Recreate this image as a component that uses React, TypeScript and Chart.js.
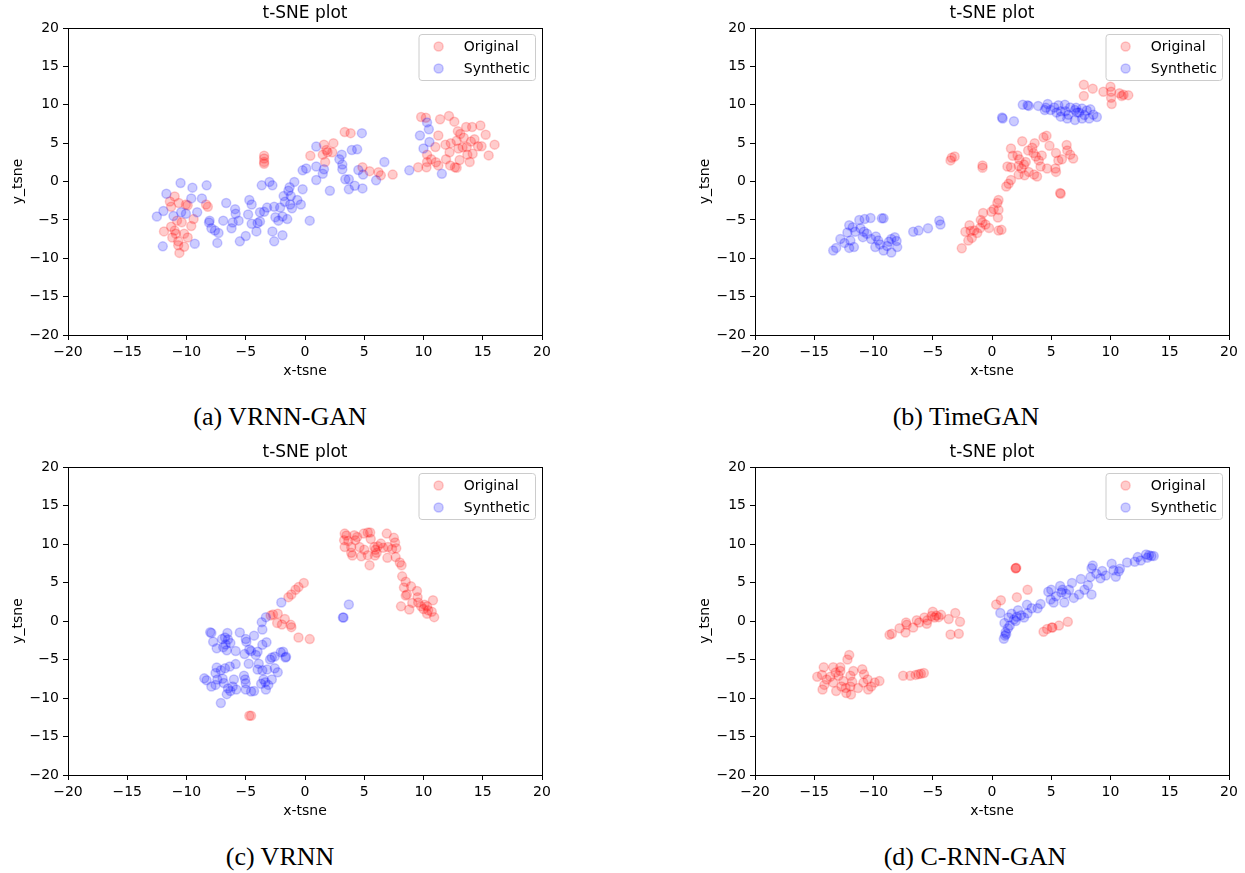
import { useEffect, useRef } from 'react';
import { Chart, registerables } from 'chart.js';

Chart.register(...registerables);

// ---------- data ----------
const xTickValues = [-20, -15, -10, -5, 0, 5, 10, 15, 20];
const yTickValues = [-20, -15, -10, -5, 0, 5, 10, 15, 20];

const plotTitle = 't-SNE plot';
const xAxisLabel = 'x-tsne';
const yAxisLabel = 'y_tsne';
const seriesLabels = ['Original', 'Synthetic'];
const captions = ['(a) VRNN-GAN', '(b) TimeGAN', '(c) VRNN', '(d) C-RNN-GAN'];

type P = [number, number];

const vrnnGanOriginal: P[] = [
  [-11.0, -1.95], [-11.4, -2.6], [-11.3, -3.3], [-10.65, -2.8], [-10.05, -3.0], [-9.9, -3.1], [-9.4, -4.9],
  [-9.6, -5.8], [-10.4, -5.3], [-10.8, -5.1], [-11.9, -6.5], [-11.0, -6.4], [-10.9, -6.8], [-11.2, -7.3],
  [-10.7, -7.8], [-10.2, -6.8], [-9.9, -7.3], [-10.7, -8.3], [-10.2, -8.5], [-10.6, -9.3], [-11.3, -5.9],
  [-8.35, -3.0], [-8.2, -3.3], [-3.45, 3.35], [-3.45, 3.0], [-3.45, 2.55], [-3.45, 2.3],
  [0.45, 3.35], [1.6, 4.8], [2.4, 5.0], [1.8, 4.1], [1.5, 3.5], [1.9, 3.8], [1.7, 2.55], [2.3, 3.8],
  [3.35, 6.45], [3.85, 6.3], [4.85, 1.85], [5.45, 1.35], [6.2, 1.2], [6.4, 0.8], [7.4, 0.9],
  [9.8, 8.4], [10.2, 8.3], [11.4, 8.1], [12.15, 8.55], [12.6, 7.8], [11.25, 6.0], [13.6, 7.1], [14.1, 7.1],
  [14.8, 7.3], [15.25, 6.1], [16.0, 4.8], [15.5, 3.4], [14.9, 4.6], [14.6, 4.6], [14.0, 5.2], [13.4, 5.7],
  [12.9, 6.55], [11.85, 4.8], [11.0, 4.5], [10.3, 3.5], [10.65, 2.9], [10.3, 2.55], [11.05, 2.5], [10.25, 1.85],
  [9.55, 1.85], [11.25, 2.1], [11.9, 2.9], [12.2, 3.8], [12.25, 2.1], [12.65, 1.85], [12.8, 1.8], [13.05, 2.8],
  [12.95, 4.3], [13.3, 4.45], [13.7, 3.5], [13.9, 2.55], [14.15, 3.6], [13.65, 4.5], [12.8, 5.3], [12.3, 5.0],
  [13.1, 6.2], [14.3, 5.5],
];
const vrnnGanSynthetic: P[] = [
  [-12.5, -4.55], [-11.95, -3.85], [-11.7, -1.6], [-12.0, -8.45], [-10.5, -0.2], [-9.5, -0.8], [-9.6, -2.2],
  [-11.1, -4.5], [-10.45, -4.0], [-10.05, -4.2], [-9.1, -4.0], [-9.3, -8.1], [-8.7, -2.2], [-8.3, -0.5],
  [-8.05, -5.1], [-8.1, -5.35], [-7.9, -6.1], [-7.6, -6.4], [-7.3, -6.7], [-7.4, -8.0], [-6.9, -5.1],
  [-6.65, -2.8], [-6.2, -6.1], [-5.9, -3.6], [-5.85, -4.2], [-5.6, -5.1], [-6.1, -5.35], [-5.5, -7.8],
  [-5.0, -7.1], [-4.8, -4.3], [-4.7, -2.4], [-4.5, -3.0], [-4.5, -5.5], [-4.1, -6.5], [-4.0, -5.4],
  [-3.8, -5.2], [-3.8, -4.0], [-3.45, -3.95], [-3.2, -3.4], [-3.65, -0.5], [-3.0, -0.05], [-2.75, -0.5],
  [-2.75, -6.5], [-2.6, -7.8], [-2.6, -3.3], [-2.5, -4.65], [-2.25, -5.1], [-2.1, -3.4], [-1.9, -4.55],
  [-1.9, -7.0], [-1.8, -1.9], [-1.7, -2.65], [-1.5, -4.9], [-1.4, -1.2], [-1.3, -0.75], [-1.2, -1.9],
  [-1.25, -3.0], [-1.1, -3.5], [-0.9, -0.05], [-0.65, -2.4], [-0.35, -3.0], [-0.2, -1.0], [-0.2, 1.45],
  [0.1, 1.7], [0.4, -5.1], [0.95, 0.2], [0.95, 1.95], [0.95, 4.55], [1.5, 1.0], [1.6, 1.6], [2.1, -1.2],
  [2.9, 2.9], [3.1, 3.5], [3.15, 2.2], [3.15, 1.6], [3.4, 0.3], [3.7, 0.3], [3.7, -1.0], [3.95, 4.1],
  [4.2, -0.55], [4.4, 4.2], [4.5, 1.5], [4.8, 6.3], [4.85, -0.9], [4.9, 0.9], [6.0, 0.15], [6.7, 2.55],
  [8.8, 1.45], [9.7, 6.0], [10.0, 4.3], [10.3, 7.7], [10.45, 6.8], [10.5, 5.15], [11.55, 1.0],
];

const timeGanOriginal: P[] = [
  [7.75, 12.6], [8.5, 12.1], [7.75, 11.15], [9.4, 11.7], [10.0, 12.35], [10.05, 11.7], [10.05, 10.9],
  [10.1, 10.1], [10.75, 11.5], [10.95, 11.15], [11.5, 11.25], [11.1, 11.3],
  [-3.5, 2.75], [-3.4, 3.1], [-3.15, 3.25], [-0.8, 2.1], [-0.8, 1.8],
  [2.55, 5.25], [1.6, 4.3], [1.75, 3.35], [2.15, 3.4], [2.3, 2.9], [1.3, 1.95], [1.6, 1.85], [2.25, 2.05],
  [2.5, 1.7], [2.7, 2.2], [2.85, 2.55], [3.05, 4.05], [3.4, 4.4], [3.6, 5.0], [3.5, 3.7], [3.7, 3.25],
  [3.95, 2.75], [4.2, 3.4], [4.35, 5.75], [4.6, 5.95], [4.85, 4.65], [2.25, 0.9], [2.75, 0.8], [3.1, 1.25],
  [3.55, 0.9], [3.8, 0.65], [4.1, 1.95], [4.65, 1.7], [5.4, 3.7], [5.35, 1.7], [5.4, 1.25], [5.6, 2.75],
  [5.9, 2.9], [6.3, 4.75], [6.35, 4.05], [6.6, 3.5], [6.85, 3.0], [5.75, -1.5], [5.8, -1.6],
  [1.6, 0.2], [1.4, -0.3], [1.2, -0.65], [0.55, -2.4], [0.45, -2.8], [0.15, -3.6], [0.55, -3.7],
  [-0.05, -3.95], [-0.75, -4.1], [0.5, -4.7], [-0.95, -5.0], [-0.8, -5.35], [-0.55, -5.6], [-0.25, -6.05],
  [0.55, -6.4], [0.8, -6.3], [-1.9, -5.7], [-2.25, -6.55], [-1.8, -6.45], [-1.5, -6.4], [-1.25, -6.7],
  [-1.0, -6.05], [-2.0, -7.7], [-1.7, -7.35], [-2.55, -8.7],
];
const timeGanSynthetic: P[] = [
  [2.6, 10.0], [3.0, 9.95], [3.1, 9.85], [3.9, 9.85], [4.55, 9.6], [4.7, 10.1], [4.45, 9.3], [4.95, 9.3],
  [5.25, 9.65], [5.6, 9.95], [6.15, 10.0], [5.8, 9.15], [6.2, 9.15], [6.6, 9.65], [7.0, 9.3], [7.1, 9.6],
  [7.35, 9.0], [7.6, 9.5], [8.0, 9.25], [8.3, 9.4], [8.55, 8.7], [8.85, 8.4], [8.2, 8.2], [7.6, 8.2],
  [7.0, 8.0], [6.35, 8.2], [5.8, 8.45], [6.45, 8.7], [7.8, 8.65], [0.9, 8.2], [0.85, 8.35], [1.85, 7.85],
  [7.2, 9.0], [5.45, 9.0],
  [-13.4, -9.0], [-13.15, -8.65], [-12.8, -7.5], [-12.45, -8.0], [-12.05, -8.65], [-11.65, -8.55],
  [-12.2, -6.65], [-12.05, -5.7], [-11.75, -5.95], [-11.55, -6.55], [-11.95, -7.7], [-11.2, -5.0],
  [-10.75, -4.9], [-10.25, -4.75], [-11.1, -6.1], [-10.8, -6.55], [-10.9, -7.25], [-10.55, -6.8],
  [-10.2, -7.5], [-9.8, -7.15], [-9.6, -7.7], [-9.85, -8.55], [-9.3, -4.8], [-9.15, -4.8], [-9.45, -8.2],
  [-9.15, -9.0], [-8.85, -8.4], [-8.7, -7.85], [-8.5, -7.5], [-8.2, -7.25], [-8.05, -7.75], [-8.0, -8.55],
  [-8.5, -9.25], [-6.65, -6.55], [-6.2, -6.4], [-5.4, -6.1], [-4.45, -5.1], [-4.35, -5.6],
];

const vrnnOriginal: P[] = [
  [3.35, 11.35], [3.5, 11.1], [3.3, 10.5], [3.35, 9.6], [3.65, 10.4], [4.15, 11.15], [4.4, 10.9], [4.25, 10.5],
  [3.9, 9.6], [3.9, 8.85], [4.0, 8.5], [4.6, 9.6], [4.75, 8.4], [5.0, 9.25], [4.95, 11.35], [5.3, 11.5],
  [5.5, 11.5], [5.55, 10.65], [5.45, 7.25], [5.3, 8.55], [5.85, 9.6], [5.95, 9.25], [6.15, 9.7], [5.9, 8.5],
  [6.05, 8.85], [6.4, 10.05], [6.6, 9.5], [6.9, 11.35], [6.95, 8.2], [7.0, 9.6], [7.35, 9.35], [7.5, 10.8],
  [7.6, 10.2], [7.7, 9.45], [7.65, 8.3], [8.0, 7.6], [8.15, 7.25], [8.2, 5.8], [8.5, 5.1], [8.35, 4.35],
  [8.95, 4.5], [8.6, 3.45], [8.5, 3.3], [9.45, 3.9], [9.5, 3.1], [8.1, 1.9], [8.8, 1.5], [9.05, 2.35],
  [9.55, 2.4], [9.8, 1.9], [10.1, 2.1], [10.3, 1.9], [10.0, 1.55], [10.4, 1.4], [10.8, 2.7], [10.7, 1.2],
  [10.9, 0.5], [10.3, 0.95],
  [-0.1, 4.95], [-0.55, 4.4], [-0.8, 4.05], [-1.15, 3.45], [-1.4, 3.1], [-2.7, 0.85], [-2.9, 0.7],
  [-2.3, 0.95], [-1.7, 0.25], [-2.35, -0.25], [-1.95, -0.45], [-1.2, -0.5], [-1.15, -0.8], [-0.55, -2.15],
  [0.4, -2.35], [-4.7, -12.3], [-4.55, -12.3],
];
const vrnnSynthetic: P[] = [
  [-8.0, -1.45], [-7.9, -1.55], [-7.75, -2.7], [-7.45, -3.55], [-7.0, -2.35], [-6.75, -2.15], [-6.55, -1.55],
  [-6.5, -2.4], [-6.7, -3.05], [-6.9, -3.4], [-6.6, -3.8], [-6.3, -2.85], [-5.85, -3.9], [-5.5, -1.5],
  [-5.0, -2.35], [-4.95, -2.7], [-4.3, -1.9], [-4.7, -3.7], [-4.55, -3.9], [-5.1, -4.3], [-4.75, -5.55],
  [-4.15, -4.4], [-4.0, -4.0], [-3.6, -3.1], [-3.25, -2.75], [-3.6, -1.1], [-3.65, -0.15], [-3.3, 0.5],
  [-2.95, -5.0], [-2.8, -4.75], [-2.55, -4.6], [-2.05, -4.05], [-1.85, -4.0], [-1.6, -4.65], [-1.65, -4.75],
  [-2.0, 2.4], [-3.9, -5.55], [-4.0, -6.3], [-3.6, -6.4], [-3.2, -6.3], [-2.55, -6.15], [-2.3, -6.65],
  [-2.8, -7.6], [-3.1, -8.3], [-3.3, -8.9], [-3.35, -7.95], [-7.45, -6.05], [-7.55, -6.75], [-7.1, -6.4],
  [-6.75, -6.15], [-6.35, -5.9], [-5.85, -5.6], [-8.5, -7.45], [-8.3, -7.7], [-7.9, -8.5], [-7.55, -8.3],
  [-7.4, -7.6], [-6.95, -7.5], [-6.85, -8.05], [-6.5, -8.75], [-6.6, -9.5], [-7.1, -10.65], [-6.3, -9.1],
  [-6.1, -8.5], [-6.0, -7.6], [-5.8, -8.9], [-5.15, -7.1], [-5.05, -7.6], [-5.0, -8.1], [-5.0, -8.9],
  [-4.55, -9.15], [-4.3, -9.1], [-3.7, -8.15], [-3.5, -7.6], [3.2, 0.45], [3.25, 0.45], [3.7, 2.15],
];

const cRnnGanOriginal: P[] = [
  [-8.65, -1.8], [-8.45, -1.65], [-7.8, -0.95], [-7.3, -1.5], [-7.25, -0.2], [-7.2, -0.5], [-6.65, -0.85],
  [-6.35, 0.1], [-6.15, -0.2], [-5.7, 0.45], [-5.5, -0.35], [-5.45, 0.1], [-5.0, 1.2], [-4.85, 0.45],
  [-4.7, 0.7], [-4.5, 0.5], [-4.3, 0.8], [-3.65, 0.25], [-3.1, 1.05], [-2.7, -0.1], [-3.5, -1.75],
  [-2.8, -1.65], [-5.1, 0.65],
  [-12.05, -4.4], [-12.2, -5.0], [-14.2, -6.0], [-13.4, -6.0], [-12.8, -6.0], [-14.75, -7.25], [-14.35, -7.0],
  [-13.95, -7.6], [-13.65, -7.25], [-13.2, -6.7], [-12.95, -7.1], [-12.8, -6.5], [-12.55, -7.8], [-14.3, -8.9],
  [-14.15, -8.3], [-13.4, -8.0], [-13.15, -9.1], [-12.7, -8.5], [-12.35, -8.7], [-12.3, -9.35], [-11.9, -9.55],
  [-11.8, -7.9], [-11.95, -8.5], [-11.7, -6.5], [-10.95, -6.25], [-10.8, -6.9], [-10.85, -8.0], [-10.5, -7.6],
  [-10.45, -8.9], [-10.2, -8.5], [-9.9, -8.0], [-9.5, -7.8], [-11.3, -8.7], [-11.95, -7.1],
  [-7.5, -7.1], [-6.9, -7.1], [-6.45, -7.0], [-6.2, -6.9], [-6.0, -6.85], [-5.75, -6.75],
  [2.0, 6.85], [2.0, 6.85], [2.05, 6.9], [3.0, 4.05], [2.1, 3.1], [0.35, 2.15], [0.75, 2.7],
  [4.35, -1.4], [4.65, -1.05], [5.05, -0.85], [5.1, -0.85], [5.65, -0.6], [6.4, -0.1],
];
const cRnnGanSynthetic: P[] = [
  [1.1, -1.9], [1.15, -1.45], [1.0, -2.3], [1.35, -0.95], [1.05, -0.25], [0.7, 1.05], [1.4, 0.45],
  [1.65, 0.95], [1.85, 0.2], [2.1, 0.55], [2.2, 1.4], [2.45, 0.75], [2.7, 0.45], [2.95, 2.1], [3.0, 1.0],
  [3.35, 1.65], [3.85, 1.65], [4.1, 2.2], [4.75, 3.8], [4.95, 2.8], [5.2, 2.4], [5.4, 3.2], [5.75, 4.55],
  [5.85, 3.7], [6.1, 2.4], [6.25, 3.55], [6.5, 4.05], [6.75, 4.95], [6.9, 3.0], [7.35, 3.45], [7.5, 5.45],
  [7.8, 4.05], [8.1, 4.65], [8.3, 5.7], [8.4, 3.45], [8.5, 7.2], [8.8, 6.15], [9.15, 5.55], [9.3, 6.5],
  [9.6, 5.9], [10.1, 7.45], [10.25, 6.6], [10.45, 5.75], [10.7, 6.45], [11.4, 7.6], [12.05, 7.7],
  [12.3, 8.3], [12.55, 7.85], [13.0, 8.65], [13.25, 8.55], [13.45, 8.45], [13.65, 8.45], [13.1, 8.2],
  [2.0, 0.0], [5.0, 4.05], [5.95, 4.05], [8.4, 6.85], [10.8, 6.8], [1.2, -1.7], [1.5, -0.6],
];

// ---------- styling / layout ----------
const SANS = '"DejaVu Sans", sans-serif';
const RED = 'rgba(255, 0, 0, 0.2)';
const BLUE = 'rgba(0, 0, 255, 0.2)';
const TICK_SIZE = 14;
const TITLE_SIZE = 17;

const fmtTick = (v: number | string) => {
  const n = Number(v);
  return n < 0 ? '\u2212' + Math.abs(n) : String(n);
};

const framePlugin = {
  id: 'mplFrame',
  afterDraw(chart: any) {
    const { ctx, chartArea: a } = chart;
    ctx.save();
    ctx.strokeStyle = '#000';
    ctx.lineWidth = 1;
    ctx.strokeRect(Math.round(a.left) + 0.5, Math.round(a.top) + 0.5,
      Math.round(a.right) - Math.round(a.left), Math.round(a.bottom) - Math.round(a.top));
    ctx.restore();
  },
};

const legendPlugin = {
  id: 'mplLegend',
  afterDatasetsDraw(chart: any) {
    const { ctx, chartArea: a } = chart;
    const fs = TICK_SIZE;
    ctx.save();
    ctx.font = `${fs}px ${SANS}`;
    const items = chart.data.datasets.map((d: any) => ({ label: d.label, color: d.backgroundColor }));
    const textW = Math.max(...items.map((i: any) => ctx.measureText(i.label).width));
    const pad = 0.4 * fs, handle = 2 * fs, htp = 0.8 * fs;
    const w = pad * 2 + handle + htp + textW;
    const h = 46;
    const right = a.right - 6.5;
    const top = a.top + 6.5;
    const left = right - w;
    ctx.beginPath();
    if (ctx.roundRect) ctx.roundRect(left, top, w, h, 3); else ctx.rect(left, top, w, h);
    ctx.fillStyle = 'rgba(255,255,255,0.8)';
    ctx.fill();
    ctx.strokeStyle = '#cccccc';
    ctx.lineWidth = 1;
    ctx.stroke();
    items.forEach((it: any, i: number) => {
      const cy = top + 12 + i * 22;
      const cx = left + pad + handle / 2;
      ctx.beginPath();
      ctx.arc(cx, cy, 4.5, 0, Math.PI * 2);
      ctx.fillStyle = it.color;
      ctx.fill();
      ctx.strokeStyle = it.color;
      ctx.lineWidth = 1.5;
      ctx.stroke();
      ctx.fillStyle = '#000';
      ctx.textBaseline = 'middle';
      ctx.textAlign = 'left';
      ctx.fillText(it.label, left + pad + handle + htp, cy + 1);
    });
    ctx.restore();
  },
};

const toXY = (pts: P[]) => pts.map(([x, y]) => ({ x, y }));

function TsnePanel({ original, synthetic, width, height, padRight }: {
  original: P[]; synthetic: P[]; width: number; height: number; padRight: number;
}) {
  const ref = useRef<HTMLCanvasElement | null>(null);
  useEffect(() => {
    if (!ref.current) return;
    const tickFont = { family: SANS, size: TICK_SIZE };
    const chart = new Chart(ref.current, {
      type: 'scatter',
      data: {
        datasets: [
          { label: seriesLabels[0], data: toXY(original), backgroundColor: RED, borderColor: RED, borderWidth: 1.5, pointRadius: 4.5, pointHoverRadius: 4.5, order: 2 },
          { label: seriesLabels[1], data: toXY(synthetic), backgroundColor: BLUE, borderColor: BLUE, borderWidth: 1.5, pointRadius: 4.5, pointHoverRadius: 4.5, order: 1 },
        ],
      },
      options: {
        responsive: false,
        animation: false,
        events: [],
        layout: { padding: { left: 0, right: padRight, top: 0, bottom: 0 } },
        plugins: {
          legend: { display: false },
          tooltip: { enabled: false },
          title: {
            display: true, text: plotTitle, fullSize: false, color: '#000',
            font: { family: SANS, size: TITLE_SIZE, lineHeight: 1, weight: 'normal' },
            padding: { top: 5, bottom: 6 },
          },
        },
        scales: {
          x: {
            type: 'linear', min: -20, max: 20,
            afterBuildTicks: (s: any) => { s.ticks = xTickValues.map((v) => ({ value: v })); },
            afterFit: (s: any) => { s.height = height - (height === 390 ? 335 : 336); },
            ticks: { callback: fmtTick, color: '#000', font: tickFont, padding: 4, maxRotation: 0, autoSkip: false },
            grid: { display: true, drawOnChartArea: false, drawTicks: true, tickLength: 5, tickColor: '#000', tickWidth: 1 },
            border: { display: false },
            title: { display: true, text: xAxisLabel, color: '#000', font: { ...tickFont, lineHeight: 1 }, padding: { top: 0, bottom: 12 } },
          },
          y: {
            type: 'linear', min: -20, max: 20,
            afterBuildTicks: (s: any) => { s.ticks = yTickValues.map((v) => ({ value: v })); },
            afterFit: (s: any) => { s.width = 68; },
            ticks: { callback: fmtTick, color: '#000', font: tickFont, padding: 4, autoSkip: false },
            grid: { display: true, drawOnChartArea: false, drawTicks: true, tickLength: 5, tickColor: '#000', tickWidth: 1 },
            border: { display: false },
            title: { display: true, text: yAxisLabel, color: '#000', font: { ...tickFont, lineHeight: 1 }, padding: { top: 11, bottom: 0 } },
          },
        },
      },
      plugins: [framePlugin, legendPlugin],
    } as any);
    return () => chart.destroy();
  }, [original, synthetic, width, height, padRight]);
  return <canvas ref={ref} width={width} height={height} style={{ width, height, display: 'block' }} />;
}

const panels = [
  { original: vrnnGanOriginal, synthetic: vrnnGanSynthetic, caption: captions[0], left: 0, top: 0, width: 560, height: 390, padRight: 18, capX: 280, capY: 417 },
  { original: timeGanOriginal, synthetic: timeGanSynthetic, caption: captions[1], left: 687, top: 0, width: 558, height: 390, padRight: 16, capX: 966, capY: 417 },
  { original: vrnnOriginal, synthetic: vrnnSynthetic, caption: captions[2], left: 0, top: 439, width: 560, height: 391, padRight: 18, capX: 280, capY: 857 },
  { original: cRnnGanOriginal, synthetic: cRnnGanSynthetic, caption: captions[3], left: 687, top: 439, width: 558, height: 391, padRight: 16, capX: 975, capY: 857 },
];

export default function App() {
  return (
    <div style={{ position: 'absolute', left: 0, top: 0, width: 1245, height: 873, overflow: 'hidden', background: '#fff' }}>
      {panels.map((p, i) => (
        <div key={i}>
          <div style={{ position: 'absolute', left: p.left, top: p.top }}>
            <TsnePanel original={p.original} synthetic={p.synthetic} width={p.width} height={p.height} padRight={p.padRight} />
          </div>
          <div style={{
            position: 'absolute', left: p.capX - 200, top: p.capY - 15, width: 400, height: 30, lineHeight: '30px',
            textAlign: 'center', fontFamily: '"Liberation Serif", serif', fontSize: 26, color: '#000', whiteSpace: 'nowrap',
          }}>{p.caption}</div>
        </div>
      ))}
    </div>
  );
}
